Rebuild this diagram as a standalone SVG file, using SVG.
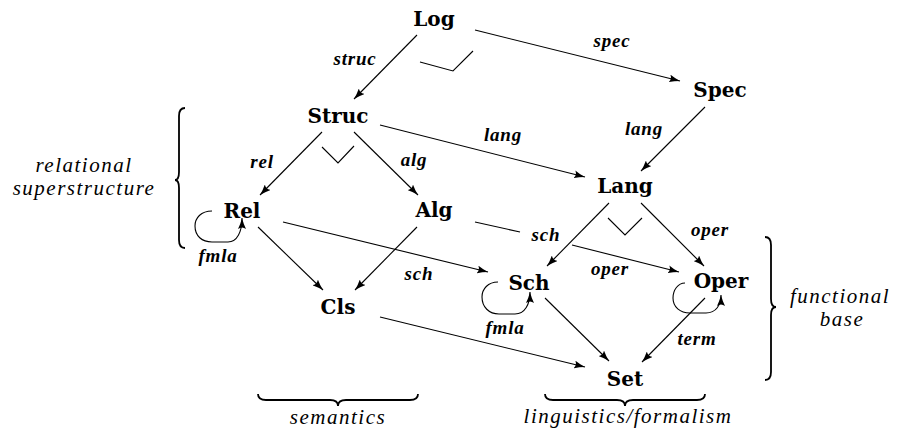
<svg xmlns="http://www.w3.org/2000/svg" width="900" height="431" viewBox="0 0 900 431">
<style>
.e{stroke:#000;stroke-width:1.1;fill:none}
.ea{stroke:#000;stroke-width:1.1;fill:none;marker-end:url(#ah)}
.br{stroke:#000;stroke-width:1.8;fill:none}
</style>
<defs>
<marker id="ah" markerUnits="userSpaceOnUse" markerWidth="12" markerHeight="8" refX="11" refY="4" orient="auto">
<path d="M0,0 Q5,2.5 11,4 Q5,5.5 0,8 Q3,4 0,0 z" fill="#000"/>
</marker>
</defs>
<rect width="900" height="431" fill="#fff"/>
<g id="connectors">
<line class="ea" x1="417" y1="35" x2="354" y2="99"/>
<line class="ea" x1="475" y1="30" x2="680" y2="81"/>
<line class="ea" x1="380" y1="125" x2="585" y2="177"/>
<line class="ea" x1="705" y1="107" x2="641" y2="171"/>
<line class="ea" x1="322" y1="132" x2="260" y2="195"/>
<line class="ea" x1="354" y1="132" x2="418" y2="195"/>
<line class="ea" x1="258" y1="227" x2="323" y2="290"/>
<line class="ea" x1="417" y1="227" x2="355" y2="290"/>
<line class="ea" x1="283" y1="222" x2="488" y2="272"/>
<line class="e" x1="475" y1="222" x2="520" y2="232"/>
<line class="ea" x1="572" y1="245" x2="679" y2="272"/>
<line class="ea" x1="609" y1="203" x2="547" y2="266"/>
<line class="ea" x1="641" y1="203" x2="704" y2="266"/>
<line class="ea" x1="545" y1="298" x2="609" y2="361"/>
<line class="ea" x1="705" y1="298" x2="642" y2="362"/>
<line class="ea" x1="380" y1="317" x2="585" y2="367"/>
<path class="ea" d="M212,211 C201,211 195,218 195,226 C195,236 202,242 212,242 L228,242 C237,242 242,232 242,218"/>
<path class="ea" d="M498,282 C488,282 482,289 482,297 C482,307 489,314 499,314 L515,314 C525,314 530,304 530,292"/>
<path class="ea" d="M685,283 C678,283 673,290 673,298 C673,307 680,313 690,313 L706,313 C716,313 721,305 721,295"/>
<polyline class="e" points="420,62 453,71 473,51"/>
<polyline class="e" points="322,147 338,163 354,146"/>
<polyline class="e" points="608,218 625,235 642,218"/>
</g>
<g id="edge-labels" font-family="Liberation Serif" font-style="italic" font-weight="bold" font-size="19" letter-spacing="0.8" text-anchor="middle" fill="#000">
<text x="355" y="65">struc</text>
<text x="612" y="47">spec</text>
<text x="503" y="141">lang</text>
<text x="644" y="135">lang</text>
<text x="262" y="168">rel</text>
<text x="414" y="166">alg</text>
<text x="419" y="280">sch</text>
<text x="546" y="241">sch</text>
<text x="610" y="275">oper</text>
<text x="710" y="236">oper</text>
<text x="697" y="345">term</text>
<text x="218" y="262">fmla</text>
<text x="505" y="334">fmla</text>
</g>
<g font-family="DejaVu Serif" font-weight="bold" font-size="20" text-anchor="middle" fill="#000">
<g id="node-Log"><text x="434" y="26">Log</text></g>
<g id="node-Spec"><text x="720" y="97">Spec</text></g>
<g id="node-Struc"><text x="338" y="123">Struc</text></g>
<g id="node-Lang"><text x="625" y="193">Lang</text></g>
<g id="node-Rel"><text x="242" y="218">Rel</text></g>
<g id="node-Alg"><text x="434" y="217">Alg</text></g>
<g id="node-Sch"><text x="529" y="290">Sch</text></g>
<g id="node-Oper"><text x="721" y="288">Oper</text></g>
<g id="node-Cls"><text x="338" y="314">Cls</text></g>
<g id="node-Set"><text x="625" y="386">Set</text></g>
</g>
<g id="groups">
<path class="br" d="M185,108 Q179,108 179,116 L179,172 Q179,180 175,180 Q179,180 179,188 L179,240 Q179,248 185,248"/>
<path class="br" d="M765,237 Q771,237 771,245 L771,299 Q771,307 776,307 Q771,307 771,315 L771,372 Q771,380 765,380"/>
<path class="br" d="M258,394 Q258,400 266,400 L330,400 Q338,400 338,406 Q338,400 346,400 L410,400 Q418,400 418,394"/>
<path class="br" d="M545,394 Q545,400 553,400 L617,400 Q625,400 625,406 Q625,400 633,400 L697,400 Q705,400 705,394"/>
<g font-family="Liberation Serif" font-style="italic" font-size="21" letter-spacing="1.5" text-anchor="middle" fill="#000">
<text x="84" y="172">relational</text>
<text x="84" y="195">superstructure</text>
<text x="840" y="303">functional</text>
<text x="842" y="326">base</text>
<text x="338" y="424">semantics</text>
<text x="628" y="423">linguistics/formalism</text>
</g>
</g>
</svg>
